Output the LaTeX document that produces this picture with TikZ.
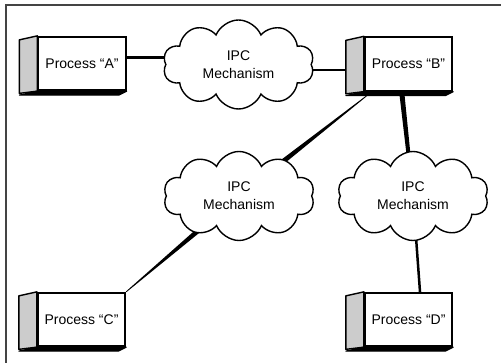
\documentclass[tikz,border=0pt]{standalone}
\usepackage{fontspec}
\setmainfont{Liberation Sans}
\usetikzlibrary{shapes.symbols,calc,backgrounds}
\definecolor{sidegray}{HTML}{CCCCCC}
\definecolor{framegray}{HTML}{444444}
\tikzset{
 proc/.style={draw=black, line width=1.8pt, fill=white, minimum width=87.5pt, minimum height=53.5pt, inner sep=0pt, font=\fontsize{14}{17}\selectfont},
 ipc/.style={cloud, cloud puffs=10, cloud puff arc=135, cloud ignores aspect, draw=black, line width=1.4pt, fill=white, minimum width=151pt, minimum height=89pt, inner sep=0pt, align=center, font=\fontsize{14}{18}\selectfont},
 sideface/.style={draw=black, line width=1.4pt, fill=sidegray, line join=round},
 baseface/.style={draw=black, line width=1.2pt, fill=black, line join=round},
 link/.style={draw=black, line width=#1},
 taper/.style={fill=black},
 frameline/.style={draw=framegray, line width=1.5pt}
}
\newcommand\taperlink[4]{%
  \fill[taper] ($(#1)!#3!90:(#2)$) -- ($(#1)!#3!-90:(#2)$) -- ($(#2)!#4!90:(#1)$) -- ($(#2)!#4!-90:(#1)$) -- cycle;}
\begin{document}
\begin{tikzpicture}[x=1pt,y=-1pt]
\useasboundingbox (0,0) rectangle (501,363);
\draw[frameline] (6,363) -- (6,5) -- (501,5);
% process boxes
\node[proc] (A) at (82,63.5) {Process “A”};
\node[proc] (B) at (408.5,64) {Process “B”};
\node[proc] (C) at (81.5,319.5) {Process “C”};
\node[proc] (D) at (408.5,319.5) {Process “D”};
\foreach \n in {A,B,C,D}{
  \draw[sideface] (\n.north west) -- ++(-18,4) -- ++(0,53.5) -- (\n.south west) -- cycle;
  \draw[baseface] (\n.south west) -- (\n.south east) -- ++(-8,4) -- ([shift={(-18,4)}]\n.south west) -- cycle;
}
% IPC clouds
\node[ipc] (c1) at (238.5,64.5) {IPC\\Mechanism};
\node[ipc] (c2) at (239,196) {IPC\\Mechanism};
\node[ipc] (c3) at (413,196) {IPC\\Mechanism};
% connectors
\begin{scope}[on background layer]
  \coordinate (al) at ([shift={(0,-5.5)}]A.east);
  \draw[link=3pt] (al) -- (al -| c1.center);
  \coordinate (bl) at ([shift={(-19,6)}]B.west);
  \draw[link=2.5pt] (bl) -- (bl -| c1.center);
  \coordinate (bc2) at ([shift={(3,4)}]B.south west);
  \taperlink{bc2}{c2.center}{0.4pt}{3.5pt}
  \taperlink{C.north east}{c2.center}{0.4pt}{3.5pt}
  \coordinate (bc3) at ([shift={(-6.5,3)}]B.south);
  \taperlink{bc3}{c3.center}{2.5pt}{1.6pt}
  \coordinate (dc3) at ([shift={(11.5,0)}]D.north);
  \draw[link=2.5pt] (c3.center) -- (dc3);
\end{scope}
\end{tikzpicture}
\end{document}
